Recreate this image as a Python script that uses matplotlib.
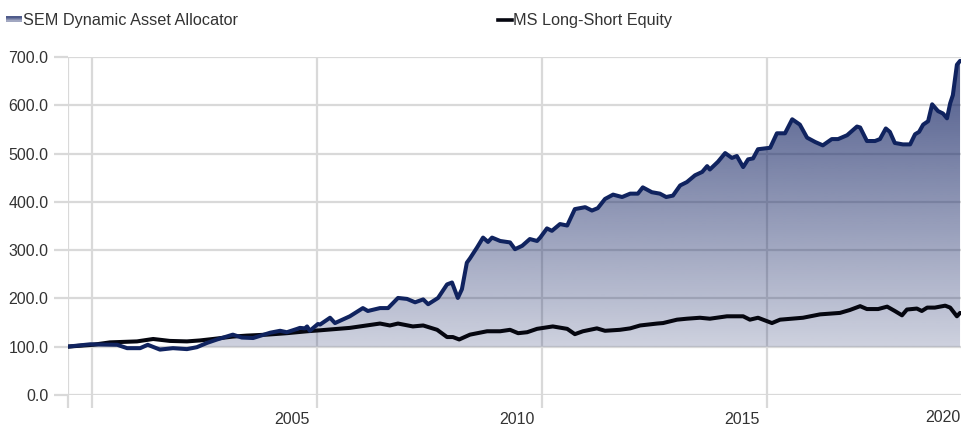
import numpy as np
import matplotlib
matplotlib.use("Agg")
import matplotlib.pyplot as plt
from matplotlib import font_manager
from matplotlib.patches import PathPatch
from matplotlib.transforms import ScaledTranslation
from matplotlib.lines import Line2D

# ---------------- data ----------------
sem_years = [1999.44, 1999.96, 2000.56, 2000.78, 2001.07, 2001.24, 2001.51, 2001.80, 2002.11,
             2002.33, 2002.56, 2002.78, 2003.13, 2003.33, 2003.58, 2003.96, 2004.18, 2004.33,
             2004.56, 2004.62, 2004.73, 2004.78, 2004.84, 2005.02, 2005.07, 2005.29, 2005.40,
             2005.73, 2006.02, 2006.13, 2006.40, 2006.58, 2006.80, 2007.00, 2007.18, 2007.36,
             2007.47, 2007.69, 2007.89, 2008.00, 2008.13, 2008.22, 2008.33, 2008.40, 2008.56,
             2008.69, 2008.80, 2008.89, 2009.07, 2009.29, 2009.40, 2009.56, 2009.73, 2009.89,
             2009.96, 2010.11, 2010.22, 2010.40, 2010.56, 2010.73, 2010.96, 2011.11, 2011.24,
             2011.40, 2011.58, 2011.78, 2011.96, 2012.13, 2012.24, 2012.44, 2012.62, 2012.76,
             2012.91, 2013.07, 2013.22, 2013.40, 2013.56, 2013.67, 2013.73, 2013.91, 2014.07,
             2014.22, 2014.33, 2014.47, 2014.58, 2014.69, 2014.80, 2015.07, 2015.22, 2015.40,
             2015.56, 2015.73, 2015.89, 2016.07, 2016.24, 2016.44, 2016.58, 2016.78, 2017.00,
             2017.07, 2017.22, 2017.40, 2017.51, 2017.64, 2017.73, 2017.84, 2018.02, 2018.18,
             2018.29, 2018.38, 2018.47, 2018.58, 2018.67, 2018.80, 2018.91, 2019.00, 2019.07,
             2019.13, 2019.22, 2019.29]
sem_values = [100, 105, 104, 97, 97, 104, 94, 97, 95,
              99, 108, 115, 125, 119, 118, 129, 133, 130,
              137, 139, 138, 142, 133, 147, 146, 160, 149,
              163, 180, 174, 180, 180, 201, 199, 192, 198,
              188, 201, 229, 233, 201, 219, 274, 283, 306,
              326, 317, 326, 319, 316, 302, 309, 323, 319,
              326, 345, 340, 354, 351, 385, 389, 382, 387,
              406, 415, 410, 417, 417, 430, 420, 417, 410,
              413, 434, 441, 455, 462, 474, 467, 483, 501,
              491, 495, 472, 488, 490, 509, 512, 542, 542,
              571, 560, 533, 524, 517, 530, 530, 538, 556,
              554, 526, 526, 530, 552, 545, 522, 519, 519,
              540, 545, 560, 567, 602, 588, 583, 573, 604,
              621, 684, 692]

ms_years = [1999.44, 2000.02, 2000.40, 2001.00, 2001.36, 2001.73, 2002.11, 2002.40, 2002.69,
            2003.13, 2003.44, 2003.89, 2004.33, 2004.78, 2005.07, 2005.73, 2006.40, 2006.62,
            2006.80, 2007.13, 2007.36, 2007.67, 2007.89, 2008.02, 2008.16, 2008.40, 2008.78,
            2009.07, 2009.29, 2009.47, 2009.67, 2009.89, 2010.24, 2010.56, 2010.73, 2010.91,
            2011.22, 2011.40, 2011.73, 2011.96, 2012.18, 2012.56, 2012.69, 2013.00, 2013.22,
            2013.51, 2013.73, 2014.11, 2014.47, 2014.62, 2014.80, 2015.11, 2015.29, 2015.80,
            2016.18, 2016.62, 2016.84, 2017.07, 2017.22, 2017.47, 2017.67, 2017.84, 2018.00,
            2018.11, 2018.33, 2018.44, 2018.56, 2018.73, 2018.96, 2019.07, 2019.22, 2019.29]
ms_values = [100, 104, 109, 111, 116, 112, 111, 113, 116,
             121, 123, 125, 128, 132, 134, 139, 148, 144,
             148, 142, 144, 135, 120, 120, 115, 125, 132,
             132, 135, 128, 130, 137, 142, 137, 126, 132,
             138, 133, 135, 138, 144, 148, 149, 156, 158,
             160, 158, 163, 163, 156, 160, 149, 156, 160,
             167, 170, 176, 184, 178, 178, 183, 174, 165,
             177, 179, 174, 181, 181, 185, 181, 163, 170]

series_names = ["SEM Dynamic Asset Allocator", "MS Long-Short Equity"]
y_ticks = [0, 100, 200, 300, 400, 500, 600, 700]
x_ticks = [1999.467, 2000, 2005, 2010, 2015]
x_tick_labels = ["", "", "2005", "2010", "2015"]
last_label = "2020"

# ---------------- fonts ----------------
avail = {f.name for f in font_manager.fontManager.ttflist}
FONT = "Liberation Sans" if "Liberation Sans" in avail else "DejaVu Sans"

TXT = "#333333"
GRID = "#d9d9d9"
NAVY = "#10235f"

W, H, DPI = 961, 425, 100
fig = plt.figure(figsize=(W / DPI, H / DPI), dpi=DPI)
ax = fig.add_axes([68 / W, (H - 395) / H, (W - 68) / W, (395 - 57) / H])

xmin, xmax = 1999.467, 2019.311
ax.set_xlim(xmin, xmax)
ax.set_ylim(0, 700)

for s in ax.spines.values():
    s.set_visible(False)

ax.set_axisbelow(True)
ax.grid(True, color=GRID, linewidth=1.6)

ax.set_yticks(y_ticks, [f"{v:.1f}" for v in y_ticks])
ax.set_xticks(x_ticks, x_tick_labels)
ax.tick_params(axis="y", length=10, width=1.6, color=GRID, pad=4, labelsize=11.5,
               labelcolor=TXT)
ax.tick_params(axis="x", length=9.5, width=1.6, color=GRID, pad=2.5, labelsize=11.5,
               labelcolor=TXT)
for lbl in ax.get_yticklabels() + ax.get_xticklabels():
    lbl.set_fontfamily(FONT)
off = ScaledTranslation(-5 / 72, 0, fig.dpi_scale_trans)
for lbl in ax.get_xticklabels():
    lbl.set_ha("right")
    lbl.set_transform(lbl.get_transform() + off)

# last (justified) x label, kept inside the canvas
fig.text(960 / W, 1 - 417 / H, last_label, ha="right", va="center", fontsize=11.5,
         color=TXT, fontfamily=FONT)

# ---------------- gradient area ----------------
sx = np.array(sem_years)
sy = np.array(sem_values)
fb = ax.fill_between(sx, sy, 100, facecolor="none", edgecolor="none")
path = fb.get_paths()[0]
clip = PathPatch(path, transform=ax.transData, facecolor="none", edgecolor="none")
ax.add_patch(clip)

navy_rgb = np.array([20, 36, 100]) / 255.0
n = 256
grad = np.zeros((n, 1, 4))
grad[:, 0, :3] = navy_rgb
grad[:, 0, 3] = np.linspace(0.76, 0.20, n)
im = ax.imshow(grad, extent=[xmin, xmax, 90, max(sem_values)], aspect="auto",
               origin="upper", zorder=1, interpolation="bilinear")
im.set_clip_path(clip)

ax.plot(ms_years, ms_values, color="#05060f", lw=2.9, zorder=3,
        solid_joinstyle="round", solid_capstyle="round")
ax.plot(sem_years, sem_values, color=NAVY, lw=2.9, zorder=4,
        solid_joinstyle="round", solid_capstyle="round")

# ---------------- legend ----------------
lax = fig.add_axes([6 / W, 1 - 22 / H, 16 / W, 6 / H])
lgrad = np.zeros((2, 1, 4))
lgrad[:, 0, :3] = navy_rgb
lgrad[:, 0, 3] = [0.75, 0.40]
lax.imshow(lgrad, aspect="auto", extent=[0, 1, 0, 1], interpolation="bilinear")
lax.axis("off")
fig.text(23 / W, 1 - 21 / H, series_names[0], ha="left", va="center", fontsize=11.7,
         color=TXT, fontfamily=FONT)

fig.add_artist(Line2D([498 / W, 512 / W], [1 - 19.5 / H, 1 - 19.5 / H], color="#05060f",
                      lw=2.6, transform=fig.transFigure))
fig.text(513 / W, 1 - 21 / H, series_names[1], ha="left", va="center", fontsize=11.7,
         color=TXT, fontfamily=FONT)

fig.savefig("out.png", dpi=DPI)
